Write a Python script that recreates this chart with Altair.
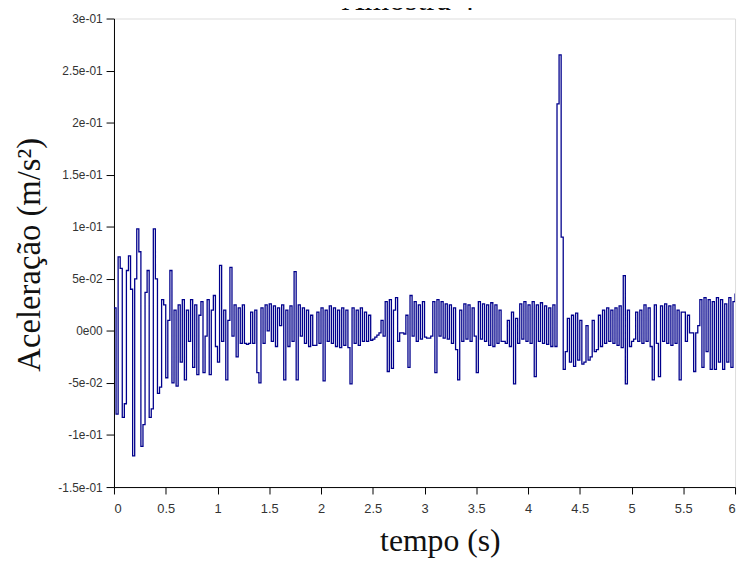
import altair as alt
import pandas as pd

# Acceleration samples (m/s^2), one every 0.02 s
accel_0s = [0.022, -0.080, 0.071, 0.060, -0.083, -0.070, 0.058, 0.072, 0.040, -0.120,
            0.050, 0.098, 0.076, -0.111, -0.090, 0.037, 0.058, -0.083, -0.075, 0.098,
            0.050, -0.060, -0.054, 0.030, 0.025, -0.045, 0.010, 0.058, -0.050, 0.020,
            -0.053, 0.025, -0.030, 0.030, -0.047, 0.020, -0.010, 0.030, -0.035, 0.025,
            -0.042, 0.015, 0.028, -0.040, -0.005, 0.030, -0.042, 0.020, 0.034, -0.015]
accel_1s = [-0.030, 0.063, -0.010, 0.020, -0.047, 0.010, 0.061, -0.005, 0.025, -0.025,
            0.022, -0.012, 0.025, -0.012, -0.013, -0.012, 0.018, -0.012, 0.020, -0.040,
            -0.050, 0.022, -0.012, 0.025, 0.000, 0.026, -0.010, 0.024, -0.015, 0.022,
            0.005, 0.025, -0.047, 0.020, -0.015, 0.024, -0.010, 0.057, -0.047, 0.025,
            -0.005, 0.022, -0.012, 0.020, -0.015, 0.015, -0.014, -0.014, 0.018, -0.012]
accel_2s = [0.022, -0.048, 0.020, -0.010, 0.024, -0.012, 0.022, -0.015, 0.020, -0.016,
            0.022, -0.014, 0.020, -0.016, -0.051, 0.022, -0.012, 0.020, -0.014, 0.022,
            -0.010, 0.018, -0.010, 0.015, -0.009, -0.008, -0.006, -0.004, -0.002, 0.010,
            -0.005, 0.028, -0.039, 0.030, -0.036, 0.020, 0.032, -0.010, -0.002, -0.002,
            -0.003, 0.015, -0.035, 0.034, -0.005, 0.028, -0.010, 0.025, -0.008, 0.028]
accel_3s = [-0.006, -0.007, -0.007, -0.005, 0.028, -0.040, 0.030, -0.005, 0.028, -0.007,
            0.026, -0.008, 0.025, -0.012, 0.022, -0.018, -0.047, 0.020, -0.010, 0.026,
            -0.008, 0.025, -0.010, 0.022, -0.005, -0.040, 0.028, -0.008, 0.026, -0.010,
            0.025, -0.014, 0.027, -0.015, 0.025, -0.012, 0.020, -0.010, -0.010, -0.012,
            0.010, -0.015, 0.018, -0.051, 0.012, -0.012, 0.026, -0.008, 0.028, -0.010]
accel_4s = [0.025, -0.012, 0.028, -0.044, 0.025, -0.010, 0.027, -0.012, 0.024, -0.013,
            0.022, -0.015, 0.025, -0.015, 0.218, 0.265, 0.090, -0.037, -0.020, 0.012,
            -0.030, 0.015, -0.034, 0.017, -0.028, 0.010, -0.032, -0.030, 0.005, -0.028,
            -0.025, 0.010, -0.020, -0.018, 0.015, -0.015, 0.020, -0.012, 0.022, -0.010,
            0.020, -0.012, 0.022, -0.014, 0.024, -0.016, 0.053, -0.051, 0.020, -0.015]
accel_5s = [-0.010, -0.008, 0.018, -0.010, 0.020, -0.012, 0.025, -0.010, 0.022, -0.015,
            -0.047, 0.025, -0.012, -0.044, 0.024, -0.010, 0.026, -0.012, 0.024, -0.014,
            0.025, -0.012, 0.020, -0.047, 0.018, 0.018, -0.010, 0.015, -0.002, -0.002,
            -0.039, -0.002, 0.005, 0.030, -0.035, 0.032, -0.020, 0.030, -0.037, 0.028,
            -0.037, 0.032, -0.030, 0.030, -0.037, 0.026, -0.030, 0.032, -0.035, 0.028,
            0.036]

sample_step = 0.02
chart_title = "Amostra 4"
y_tick_values = [0.3, 0.25, 0.2, 0.15, 0.1, 0.05, 0.0, -0.05, -0.1, -0.15]
y_tick_labels = ["3e-01", "2.5e-01", "2e-01", "1.5e-01", "1e-01", "5e-02",
                 "0e00", "-5e-02", "-1e-01", "-1.5e-01"]
x_tick_values = [0, 0.5, 1, 1.5, 2, 2.5, 3, 3.5, 4, 4.5, 5, 5.5, 6]

rows = []
for start, chunk in enumerate([accel_0s, accel_1s, accel_2s, accel_3s, accel_4s, accel_5s]):
    for i, v in enumerate(chunk):
        rows.append({"t": round(start + i * sample_step, 2), "a": v})
df = pd.DataFrame(rows)
title_df = pd.DataFrame({"label": [chart_title]})

label_expr = " : ".join(
    f"abs(datum.value - ({v})) < 1e-6 ? '{lab}'" for v, lab in zip(y_tick_values, y_tick_labels)
) + " : ''"

line = alt.Chart(df).mark_line(color="#00008c", strokeWidth=1.3, clip=True,
                               interpolate="step-after").encode(
    x=alt.X("t:Q",
            scale=alt.Scale(domain=[0, 6], nice=False, zero=False),
            axis=alt.Axis(values=x_tick_values, format=".1~f", title="tempo (s)",
                          titleFont="Liberation Serif", titleFontSize=32, titleFontWeight="normal",
                          titleColor="#111111", titleX=329, titleY=64,
                          titleBaseline="alphabetic", titleAlign="center",
                          labelFont="Liberation Sans", labelFontSize=13, labelColor="#333333",
                          labelPadding=9, tickSize=7, tickColor="#000000",
                          domainColor="#000000", grid=False)),
    y=alt.Y("a:Q",
            scale=alt.Scale(domain=[-0.15, 0.3], nice=False, zero=False),
            axis=alt.Axis(values=y_tick_values, labelExpr=label_expr,
                          title="Aceleração (m/s²)",
                          titleFont="Liberation Serif", titleFontSize=33, titleFontWeight="normal",
                          titleColor="#111111", titleX=-75, titleY=238, titleAngle=270,
                          titleBaseline="alphabetic", titleAlign="center",
                          labelFont="Liberation Sans", labelFontSize=12, labelColor="#333333",
                          labelPadding=4, tickSize=8, tickColor="#000000",
                          domainColor="#000000", grid=False)),
)

title_text = alt.Chart(title_df).mark_text(
    font="Liberation Serif", fontSize=32, color="#111111",
    align="center", baseline="alphabetic"
).encode(
    text="label:N",
    x=alt.value(297),
    y=alt.value(-9),
)

chart = alt.layer(line, title_text).properties(
    width=627,
    height=473,
    autosize=alt.AutoSizeParams(type="none"),
    padding={"left": 107, "top": 8, "right": 5, "bottom": 70},
).configure_view(
    stroke="#000000", strokeWidth=1
).configure(background="white")

chart.save("out.html", embed_options={"renderer": "svg", "actions": False})
